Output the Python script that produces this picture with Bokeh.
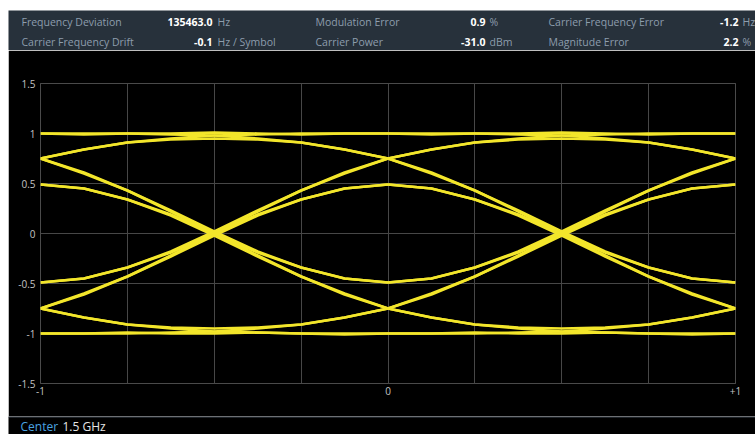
from bokeh.plotting import figure
from bokeh.layouts import column
from bokeh.models import Range1d, FixedTicker, Span
from bokeh.core.properties import value
from bokeh.embed import file_html
from bokeh.resources import INLINE

# ---------------- data ----------------
metric_names = ["Frequency Deviation", "Carrier Frequency Drift", "Modulation Error",
                "Carrier Power", "Carrier Frequency Error", "Magnitude Error"]
metric_values = ["135463.0", "-0.1", "0.9", "-31.0", "-1.2", "2.2"]
metric_units = ["Hz", "Hz / Symbol", "%", "dBm", "Hz", "%"]
metric_col = [0, 0, 1, 1, 2, 2]
metric_row = [0, 1, 0, 1, 0, 1]

center_label = "Center"
center_value = "1.5 GHz"

# sample instants inside one symbol period (symbols)
u = [0.0, 0.125, 0.25, 0.375, 0.5, 0.625, 0.75, 0.875, 1.0]
# symbol periods shown in the eye (start times)
period_starts = [-1.0, 0.0]

# trajectory shapes (one symbol period each)
hi_1_1 = [1.00, 0.99, 1.00, 1.00, 1.01, 1.00, 0.99, 1.00, 1.00]
hi_75_1 = [0.75, 0.84, 0.91, 0.95, 0.98, 0.99, 1.00, 1.00, 1.00]
hi_1_75 = [1.00, 1.00, 1.00, 0.99, 0.98, 0.95, 0.91, 0.84, 0.75]
hi_75_75 = [0.75, 0.84, 0.91, 0.94, 0.95, 0.94, 0.91, 0.84, 0.75]
dn_75_m75 = [0.75, 0.60, 0.43, 0.22, 0.00, -0.22, -0.43, -0.60, -0.75]
dn_50_m75 = [0.49, 0.45, 0.34, 0.18, -0.02, -0.23, -0.43, -0.61, -0.75]
dn_50_m50 = [0.49, 0.45, 0.34, 0.19, 0.00, -0.19, -0.34, -0.45, -0.49]
dn_75_m50 = [0.75, 0.61, 0.43, 0.23, 0.02, -0.18, -0.34, -0.45, -0.49]
lo_m1_m1 = [-1.00, -1.00, -0.99, -1.00, -1.00, -0.99, -1.00, -1.01, -1.00]
lo_m75_m1 = [-0.75, -0.84, -0.91, -0.95, -0.98, -0.99, -1.00, -1.00, -1.00]
lo_m1_m75 = [-1.00, -1.00, -1.00, -0.99, -0.98, -0.95, -0.91, -0.84, -0.75]
lo_m75_m75 = [-0.75, -0.84, -0.91, -0.94, -0.95, -0.94, -0.91, -0.84, -0.75]
up_m75_75 = [-0.75, -0.60, -0.43, -0.22, 0.00, 0.22, 0.43, 0.60, 0.75]
up_m50_75 = [-0.49, -0.45, -0.34, -0.18, 0.02, 0.23, 0.43, 0.61, 0.75]
up_m50_50 = [-0.49, -0.45, -0.34, -0.19, 0.00, 0.19, 0.34, 0.45, 0.49]
up_m75_50 = [-0.75, -0.61, -0.43, -0.23, -0.02, 0.18, 0.34, 0.45, 0.49]

shapes = [hi_1_1, hi_75_1, hi_1_75, hi_75_75, dn_75_m75, dn_50_m75, dn_50_m50, dn_75_m50,
          lo_m1_m1, lo_m75_m1, lo_m1_m75, lo_m75_m75, up_m75_75, up_m50_75, up_m50_50, up_m75_50]

x_tick_vals = [-1, 0, 1]
x_tick_text = ["-1", "0", "+1"]
y_tick_vals = [-1.5, -1, -0.5, 0, 0.5, 1, 1.5]
y_tick_text = ["-1.5", "-1", "-0.5", "0", "0.5", "1", "1.5"]
x_grid_vals = [-1, -0.75, -0.5, -0.25, 0, 0.25, 0.5, 0.75, 1]

# ---------------- styles ----------------
FONT = value("Open Sans")
W = 747
HEADER_BG = "#27313b"
LABEL_C = "#8d9dad"
TRACE_C = "#f3e62b"


def strip(height, bg):
    f = figure(width=W, height=height, output_backend="svg", toolbar_location=None,
               x_range=Range1d(0, W), y_range=Range1d(0, height),
               x_axis_type=None, y_axis_type=None, frame_align=False,
               min_border_top=0, min_border_bottom=0, min_border_left=0, min_border_right=0)
    f.background_fill_color = bg
    f.border_fill_color = bg
    f.outline_line_color = None
    f.xgrid.visible = False
    f.ygrid.visible = False
    return f


# ---------------- header ----------------
hdr = strip(40, HEADER_BG)
label_x = [13, 307, 540]
value_right = [204, 477, 730]
unit_left = [209, 481, 734]
row_y = [28.5, 8.5]

lx = [label_x[c] for c in metric_col]
vx = [value_right[c] for c in metric_col]
ux = [unit_left[c] for c in metric_col]
ry = [row_y[r] for r in metric_row]

hdr.text(x=lx, y=ry, text=metric_names, text_align="left", text_baseline="middle",
         text_font=FONT, text_font_size="10.5px", text_color=LABEL_C)
hdr.text(x=vx, y=ry, text=metric_values, text_align="right", text_baseline="middle",
         text_font=FONT, text_font_size="10.5px", text_color="white", text_font_style="bold")
hdr.text(x=ux, y=ry, text=metric_units, text_align="left", text_baseline="middle",
         text_font=FONT, text_font_size="10.5px", text_color=LABEL_C)

# ---------------- eye diagram ----------------
p = figure(width=W, height=366, output_backend="svg", toolbar_location=None,
           x_range=Range1d(-1, 1), y_range=Range1d(-1.5, 1.5), frame_align=False,
           min_border_top=33, min_border_bottom=33, min_border_left=32, min_border_right=20)
p.background_fill_color = "black"
p.border_fill_color = "black"
p.outline_line_color = "#4a4a4a"

xs, ys = [], []
for s in period_starts:
    for sh in shapes:
        xs.append([s + t for t in u])
        ys.append(sh)
p.multi_line(xs=xs, ys=ys, line_color=TRACE_C, line_width=2.6, line_join="round")

p.xaxis.ticker = FixedTicker(ticks=x_tick_vals)
p.xaxis.major_label_overrides = {v: t for v, t in zip(x_tick_vals, x_tick_text)}
p.yaxis.ticker = FixedTicker(ticks=y_tick_vals)
p.yaxis.major_label_overrides = {v: t for v, t in zip(y_tick_vals, y_tick_text)}
p.xgrid.ticker = FixedTicker(ticks=x_grid_vals)
p.ygrid.ticker = FixedTicker(ticks=y_tick_vals)
for g in (p.xgrid, p.ygrid):
    g.grid_line_color = "#474747"
    g.grid_line_width = 1
for ax in (p.xaxis, p.yaxis):
    ax.axis_line_color = None
    ax.major_tick_line_color = None
    ax.minor_tick_line_color = None
    ax.major_tick_in = 0
    ax.major_tick_out = 0
    ax.minor_tick_in = 0
    ax.minor_tick_out = 0
    ax.major_label_text_color = "#c4c4c4"
    ax.major_label_text_font = "Open Sans"
    ax.major_label_text_font_size = "10px"
p.yaxis.major_label_standoff = 5
p.xaxis.major_label_standoff = 3

# ---------------- footer ----------------
ftr = strip(18, "black")
ftr.add_layout(Span(location=17.5, dimension="width", line_color="#3a4550", line_width=1))
ftr.text(x=[12], y=[8.5], text=[center_label], text_align="left", text_baseline="middle",
         text_font=FONT, text_font_size="12px", text_color="#4aa3e0")
ftr.text(x=[54], y=[8.5], text=[center_value], text_align="left", text_baseline="middle",
         text_font=FONT, text_font_size="12px", text_color="#e6e6e6")

layout = column(hdr, p, ftr, spacing=0, margin=(10, 0, 0, 8))
open("out.html", "w").write(file_html(layout, INLINE))
